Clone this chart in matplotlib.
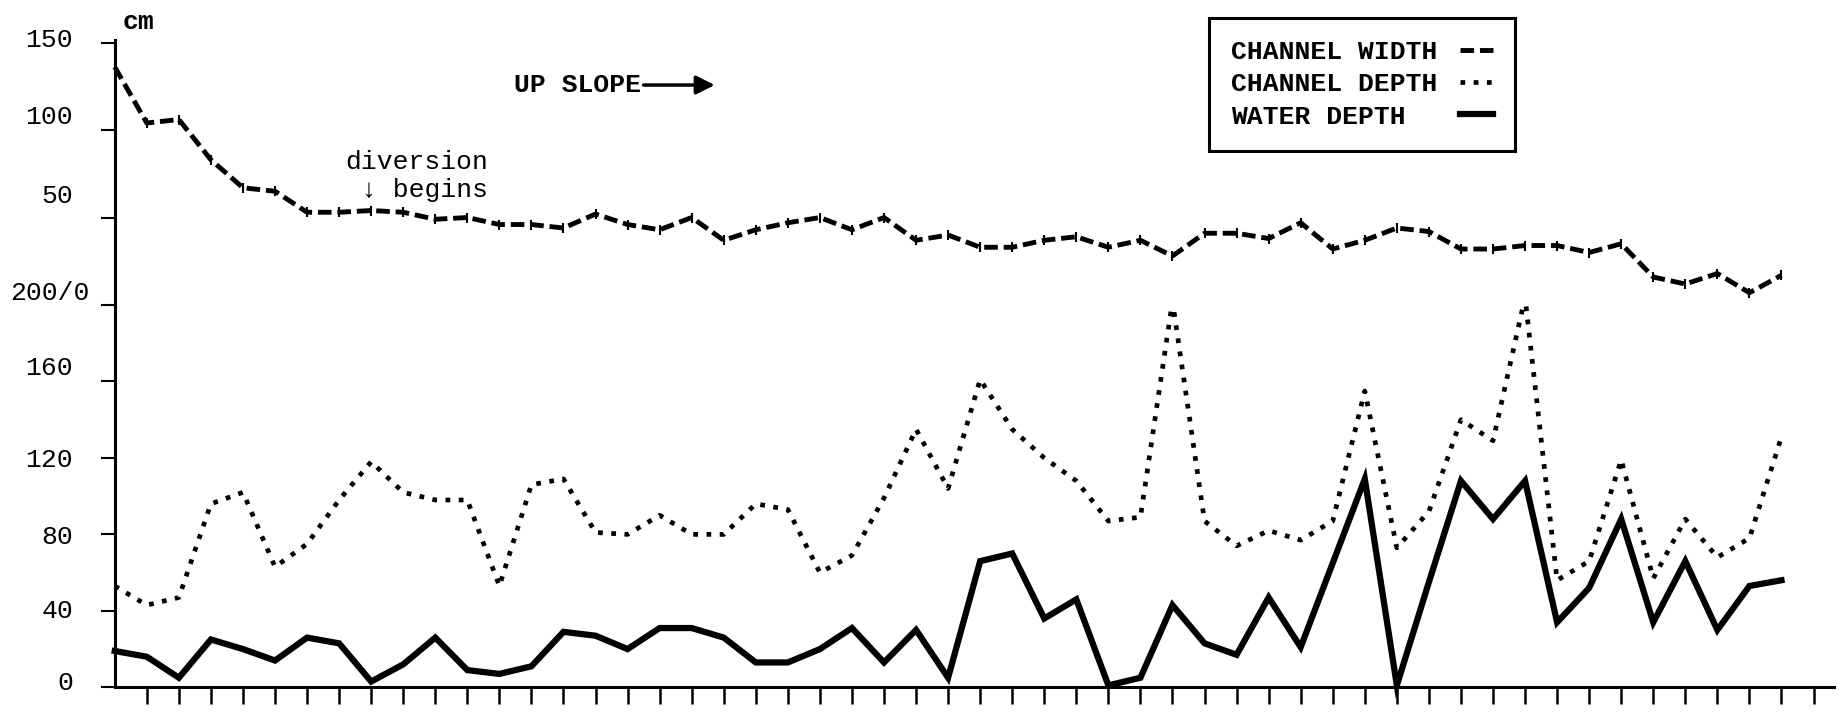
import matplotlib
matplotlib.use("Agg")
import matplotlib.pyplot as plt
from matplotlib.lines import Line2D
from matplotlib.transforms import ScaledTranslation
from typing import Dict, List

plt.rcParams["font.family"] = ["Liberation Mono", "DejaVu Sans Mono"]
plt.rcParams["font.weight"] = "bold"

# stations along the channel, 0 = lowest point, going up slope
stations = list(range(53))

# cm
channel_width = [136, 104, 106, 83, 67, 65, 53, 53, 54, 53,
                 49, 50, 46, 46, 44, 52, 46, 43, 50, 37,
                 43, 47, 50, 43, 50, 37, 40, 33, 33, 37,
                 39, 33, 37, 28, 41, 41, 38, 47, 32, 37,
                 44, 42, 32, 32, 34, 34, 30, 35, 16, 12,
                 18, 7, 17]
channel_depth = [53, 43, 47, 96, 102, 63, 75, 98, 118, 102,
                 98, 98, 53, 106, 109, 81, 80, 90, 80, 80,
                 96, 93, 60, 69, 99, 135, 104, 161, 135, 120,
                 108, 87, 89, 202, 87, 74, 82, 77, 87, 155,
                 73, 92, 140, 129, 204, 56, 66, 119, 57, 88,
                 68, 78, 131]
water_depth = [19, 16, 5, 25, 20, 14, 26, 23, 3, 12,
               26, 9, 7, 11, 29, 27, 20, 31, 31, 26,
               13, 13, 20, 31, 13, 30, 5, 66, 70, 36,
               46, 1, 5, 43, 23, 17, 47, 21, 65, 109,
               1, 55, 108, 88, 108, 34, 52, 88, 34, 66,
               30, 53, 56]

depth_ticks = [0, 40, 80, 120, 160, 200]
depth_tick_labels = ["0", "40", "80", "120", "160", "200/0"]
width_ticks = [50, 100, 150]
width_tick_labels = ["50", "100", "150"]
series_names = ["CHANNEL WIDTH", "CHANNEL DEPTH", "WATER DEPTH"]

DPI = 100
FONT_SIZE = 19
WIDTH_STYLE = dict(color="black", lw=3.5, linestyle=(0, (2.8, 1.2)))
DEPTH_STYLE = dict(color="black", lw=3.4, linestyle=(0, (1.0, 1.8)))
WATER_STYLE = dict(color="black", lw=4.5, solid_joinstyle="miter")

# the typed axis labels do not sit exactly on their tick marks (pixels up)
LABEL_LIFT: Dict[str, float] = {"0": 7, "40": 2, "80": 0, "120": 0, "160": 16,
                                "200/0": 15, "50": 24, "100": 16, "150": 5}


def style_axis(ax: plt.Axes, ticks: List[int], labels: List[str]) -> None:
    for side in ("top", "right"):
        ax.spines[side].set_visible(False)
    for side in ("left", "bottom"):
        ax.spines[side].set_linewidth(2.2)
    ax.set_xlim(0, 53.64)
    ax.set_yticks(ticks, labels, fontweight="normal")
    ax.tick_params(axis="y", direction="out", length=10, width=1.5,
                   pad=20, labelsize=FONT_SIZE)


def nudge_labels(fig: plt.Figure, ax: plt.Axes) -> None:
    for lab in ax.get_yticklabels():
        text = lab.get_text()
        dx = 16 if text == "200/0" else 0
        dy = LABEL_LIFT.get(text, 0)
        lab.set_transform(lab.get_transform()
                          + ScaledTranslation(dx / DPI, dy / DPI, fig.dpi_scale_trans))


fig = plt.figure(figsize=(18.39, 7.14), dpi=DPI)
ax_bot = fig.add_axes([0.0624, 0.0374, 0.9349, 0.5354])
ax_top = fig.add_axes([0.0624, 0.5728, 0.9349, 0.3711], sharex=ax_bot)

ax_top.plot(stations, channel_width, marker="|", ms=7, mew=1.5,
            clip_on=False, **WIDTH_STYLE)
ax_bot.plot(stations, channel_depth, clip_on=False, **DEPTH_STYLE)
ax_bot.plot(stations, water_depth, clip_on=False, **WATER_STYLE)

style_axis(ax_bot, depth_ticks, depth_tick_labels)
style_axis(ax_top, width_ticks, width_tick_labels)
ax_bot.set_ylim(0, 200)
ax_top.set_ylim(0, 151.4)

ax_bot.set_xticks(range(1, 54))
ax_bot.tick_params(axis="x", direction="out", length=12, width=1.8,
                   labelbottom=False)
ax_top.spines["bottom"].set_visible(False)
ax_top.tick_params(axis="x", bottom=False, labelbottom=False)

nudge_labels(fig, ax_bot)
nudge_labels(fig, ax_top)

ax_top.text(0.73, 161.7, "cm", ha="center", va="center", fontsize=FONT_SIZE)
ax_top.text(12.46, 125.7, "UP SLOPE", ha="left", va="center", fontsize=FONT_SIZE)
ax_top.annotate("", xy=(18.72, 125.7), xytext=(16.5, 125.7),
                arrowprops=dict(arrowstyle="-|>", color="black", lw=2.5,
                                mutation_scale=28, shrinkA=0, shrinkB=0))
ax_top.text(11.65, 73.8, "diversion\n\u2193 begins", ha="right", va="center",
            multialignment="right", linespacing=1.2, fontsize=FONT_SIZE,
            fontweight="normal")

# labels padded to one width so they stay left aligned with the keys on the right
longest = max(len(name) for name in series_names)
legend_labels = [name.ljust(longest) for name in series_names]
handles = [Line2D([], [], **WIDTH_STYLE),
           Line2D([], [], **DEPTH_STYLE),
           Line2D([], [], **WATER_STYLE)]
leg = fig.legend(handles, legend_labels, loc="upper left",
                 bbox_to_anchor=(1209 / 1839, 1 - 18 / 714),
                 bbox_transform=fig.transFigure, fancybox=False,
                 edgecolor="black", framealpha=1, markerfirst=False,
                 handlelength=1.25, handletextpad=0.86, labelspacing=0.31,
                 borderpad=0.84, borderaxespad=0,
                 prop={"size": FONT_SIZE, "weight": "bold"})
leg.get_frame().set_linewidth(2.2)

fig.savefig("out.png", dpi=DPI)
